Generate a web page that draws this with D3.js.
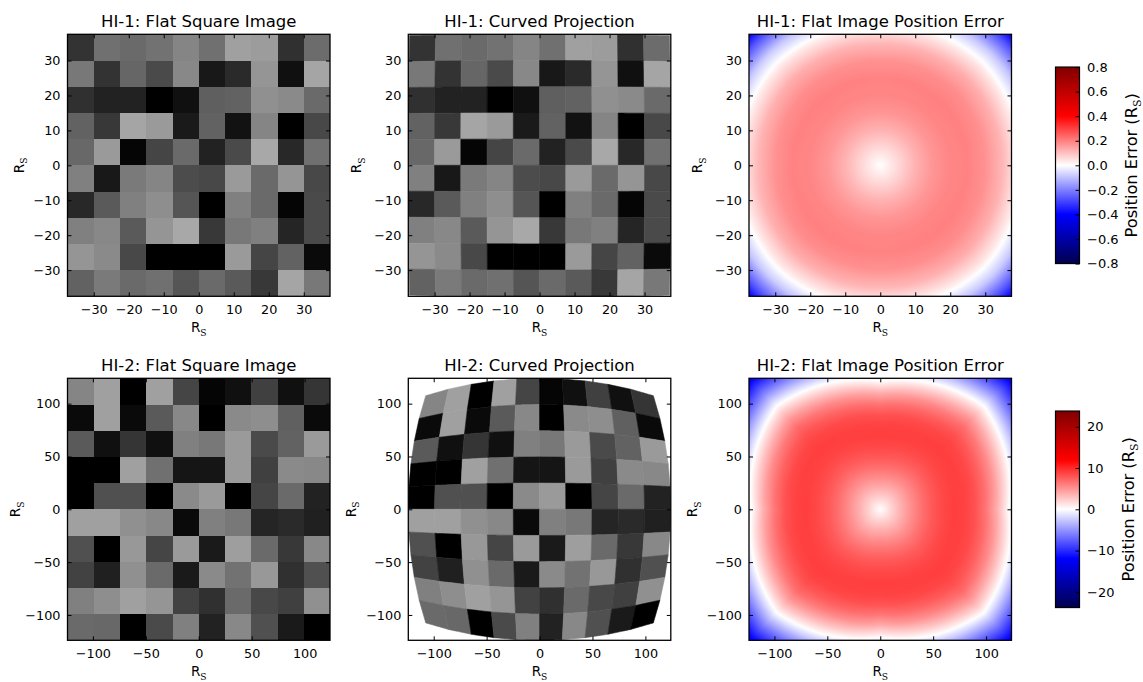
<!DOCTYPE html>
<html><head><meta charset="utf-8">
<script src="https://cdn.jsdelivr.net/npm/d3@7"></script>
<style>
body{margin:0;background:#fff}
svg{display:block}
text{font-family:'DejaVu Sans',sans-serif;fill:#000}
</style>
</head><body>
<svg id="chart" width="1143" height="682"></svg>
<script>
// ================= DATA =================
const hi1Extent = 37.5;   // R_S half-width of HI-1 image
const hi2Extent = 124;    // R_S half-width of HI-2 image

// pixel brightness (0-255) of the 10x10 test images, top row first
const hi1Brightness = [
  [ 51,112,106,114,133,112,160,156, 48,108],
  [120, 51,102, 74,136, 24, 42,149, 16,165],
  [ 48, 34, 34,  0, 16, 95, 98,144,138,106],
  [ 98, 56,165,154, 26, 98, 18,133,  0, 72],
  [104,154,  5, 69,106, 34, 74,168, 40,112],
  [128, 24,122,133, 76, 72,154,106,149, 72],
  [ 40, 90,128,142, 85,  0,128,106,  5, 74],
  [128,136, 90,149,168, 56,120,128, 37, 74],
  [149,138, 72,  0,  0,  0,154, 69, 98, 10],
  [ 98,122,106,112, 85,106, 90, 56,165,120]
];
const hi2Brightness = [
  [133,160,  0,160, 69,  5, 16, 64, 16, 53],
  [ 10,160, 10, 90,136,  0,138,142, 96, 10],
  [ 90, 16, 53, 16,128,120,154, 74, 98,154],
  [  0,  0,160,112, 21, 21,154, 64,138,136],
  [  0, 80, 80,  0,138,154,  0, 69,106, 34],
  [160,160,144,136, 10,128,120, 37, 42, 32],
  [ 80,  0,152, 69,154, 26,158,106, 56,136],
  [ 66, 32,144,106, 26,138,114,152, 48, 80],
  [128,142,160,149, 66, 48,106, 72, 64,144],
  [106,104,  0, 74,128, 34,136, 80, 26,  0]
];

const hi1Ticks = [-30,-20,-10,0,10,20,30];
const hi2Ticks = [-100,-50,0,50,100];

// position error (R_S) versus radius, along the axes and along the diagonals
const hi1Radii   = [0,5,10,15,20,25,30,35,40,45,50,55];
const hi1ErrAxis = [0,0.06,0.12,0.165,0.19,0.195,0.17,0.11,0.01,-0.12,-0.30,-0.50];
const hi1ErrDiag = [0,0.06,0.12,0.165,0.19,0.20,0.18,0.13,0.04,-0.08,-0.27,-0.50];
const hi2Radii   = [0,10,20,30,40,50,60,70,80,90,100,110,120,130,140,150,160,170,180];
const hi2ErrAxis = [0,2.0,3.8,5.4,6.8,7.9,8.6,9.0,8.8,8.0,6.3,3.8,0.5,-3,-7,-11,-15,-19,-23];
const hi2ErrDiag = [0,1.9,3.6,5.1,6.4,7.5,8.3,8.8,9.0,8.8,8.1,6.9,5.0,2.5,-0.5,-4,-7.5,-11,-14];

// colour bar limits and ticks
const hi1CbLimit = 0.8;
const hi2CbLimit = 23.8;
const hi1CbTicks = [-0.8,-0.6,-0.4,-0.2,0,0.2,0.4,0.6,0.8];
const hi2CbTicks = [-20,-10,0,10,20];

// curved projection: squeeze factor of one coordinate vs |other coordinate|/extent
const squeezeT   = [0,0.2,0.4,0.6,0.8,1.0];
const hi1Squeeze = [1,0.9996,0.9985,0.9965,0.9938,0.990];
const hi2Squeeze = [1,0.995,0.980,0.954,0.917,0.867];

// ================= LAYOUT =================
const svg = d3.select('#chart');
const colLeft = [67.5, 408.3, 749], panelW = 262.5;
const rowTop = [34.3, 378.3], panelH = 262;
const ylabX = [[23.5, 361.3, 702],[20, 355.5, 697]];
const cbX = 1055.5, cbW = 24, cbH = 196.5;
const grey = d3.scaleLinear().domain([0,255]).range(['#000000','#ffffff']);
const seismicColors = ['#00004d','#0000ff','#ffffff','#ff0000','#800000'];
function seismic(m){
  return d3.scaleLinear().domain([-m,-m/2,0,m/2,m]).range(seismicColors).clamp(true);
}

const instruments = [
  {name:'HI-1', ext:hi1Extent, img:hi1Brightness, ticks:hi1Ticks, radii:hi1Radii,
   errA:hi1ErrAxis, errD:hi1ErrDiag, lim:hi1CbLimit, cbTicks:hi1CbTicks, cbFmt:d3.format('.1f'), squeeze:hi1Squeeze},
  {name:'HI-2', ext:hi2Extent, img:hi2Brightness, ticks:hi2Ticks, radii:hi2Radii,
   errA:hi2ErrAxis, errD:hi2ErrDiag, lim:hi2CbLimit, cbTicks:hi2CbTicks, cbFmt:d3.format('d'), squeeze:hi2Squeeze}
];

function addRs(sel, size){
  sel.append('tspan').text('R');
  sel.append('tspan').attr('dy', size*0.28).style('font-family',"'DejaVu Serif',serif")
     .style('font-size', (size*0.68)+'px').text('S');
}

let clipId = 0;
function makePanel(row, col, inst, title){
  const left = colLeft[col], top = rowTop[row];
  const xS = d3.scaleLinear().domain([-inst.ext, inst.ext]).range([left, left+panelW]);
  const yS = d3.scaleLinear().domain([-inst.ext, inst.ext]).range([top+panelH, top]);
  const g = svg.append('g');
  const cid = 'clip'+(clipId++);
  svg.append('clipPath').attr('id',cid).append('rect')
     .attr('x',left).attr('y',top).attr('width',panelW).attr('height',panelH);
  const content = g.append('g').attr('clip-path',`url(#${cid})`);
  g.append('text').attr('x',left+panelW/2).attr('y',top-7)
   .attr('text-anchor','middle').style('font-size','16.5px').text(title);
  return {g, content, xS, yS, left, top};
}

function cellsOf(img, ext){
  const n = img.length, cw = 2*ext/n;
  return img.flatMap((rowArr,r)=>rowArr.map((v,c)=>({
    v, x0:-ext+c*cw, x1:-ext+(c+1)*cw, y1:ext-r*cw, y0:ext-(r+1)*cw
  })));
}

function drawAxes(p, inst, row, col){
  const {g,xS,yS,left,top} = p;
  const fmt = d3.format('d');
  const styleAxis = sel => {
    sel.select('.domain').remove();
    sel.selectAll('line').attr('stroke','#000').attr('stroke-width',1);
    sel.selectAll('text').style('font-size','12.8px').style('font-family',"'DejaVu Sans',sans-serif").attr('fill','#000');
    sel.attr('font-family',null).attr('font-size',null);
  };
  g.append('g').attr('transform',`translate(0,${top+panelH})`)
   .call(d3.axisBottom(xS).tickValues(inst.ticks).tickSize(-4).tickPadding(9).tickFormat(fmt)).call(styleAxis);
  g.append('g').attr('transform',`translate(0,${top})`)
   .call(d3.axisTop(xS).tickValues(inst.ticks).tickSize(-4).tickFormat('')).call(styleAxis);
  g.append('g').attr('transform',`translate(${left},0)`)
   .call(d3.axisLeft(yS).tickValues(inst.ticks).tickSize(-4).tickPadding(7).tickFormat(fmt)).call(styleAxis);
  g.append('g').attr('transform',`translate(${left+panelW},0)`)
   .call(d3.axisRight(yS).tickValues(inst.ticks).tickSize(-4).tickFormat('')).call(styleAxis);
  g.append('rect').attr('x',left).attr('y',top).attr('width',panelW).attr('height',panelH)
   .attr('fill','none').attr('stroke','#000').attr('stroke-width',1.3);
  const xl = g.append('text').attr('x',left+panelW/2).attr('y',top+panelH+36)
    .attr('text-anchor','middle').style('font-size','13.5px');
  addRs(xl,13.5);
  const yl = g.append('text').attr('transform',`translate(${ylabX[row][col]},${top+panelH/2}) rotate(-90)`)
    .attr('text-anchor','middle').style('font-size','13.5px');
  addRs(yl,13.5);
}

instruments.forEach((inst,row)=>{
  const cells = cellsOf(inst.img, inst.ext);

  // ---- flat square image ----
  const p1 = makePanel(row,0,inst,inst.name+': Flat Square Image');
  p1.content.selectAll('rect').data(cells).join('rect')
    .attr('x',d=>p1.xS(d.x0)).attr('y',d=>p1.yS(d.y1))
    .attr('width',d=>p1.xS(d.x1)-p1.xS(d.x0)).attr('height',d=>p1.yS(d.y0)-p1.yS(d.y1))
    .attr('fill',d=>grey(d.v)).attr('shape-rendering','crispEdges');
  drawAxes(p1,inst,row,0);

  // ---- curved projection ----
  const p2 = makePanel(row,1,inst,inst.name+': Curved Projection');
  const sq = d3.scaleLinear().domain(squeezeT).range(inst.squeeze).clamp(true);
  const ext = inst.ext;
  const mapPt = (x,y)=>[p2.xS(x*sq(Math.abs(y)/ext)), p2.yS(y*sq(Math.abs(x)/ext))];
  const nSeg = 10;
  const cellPath = d=>{
    const pts=[];
    for(let k=0;k<nSeg;k++) pts.push(mapPt(d.x0+(d.x1-d.x0)*k/nSeg, d.y0));
    for(let k=0;k<nSeg;k++) pts.push(mapPt(d.x1, d.y0+(d.y1-d.y0)*k/nSeg));
    for(let k=0;k<nSeg;k++) pts.push(mapPt(d.x1-(d.x1-d.x0)*k/nSeg, d.y1));
    for(let k=0;k<nSeg;k++) pts.push(mapPt(d.x0, d.y1-(d.y1-d.y0)*k/nSeg));
    return d3.line()(pts)+'Z';
  };
  p2.content.selectAll('path').data(cells).join('path')
    .attr('d',cellPath).attr('fill',d=>grey(d.v))
    .attr('stroke',d=>grey(d.v)).attr('stroke-width',0.6).attr('stroke-linejoin','round');
  drawAxes(p2,inst,row,1);

  // ---- position error map ----
  const p3 = makePanel(row,2,inst,inst.name+': Flat Image Position Error');
  const cmap = seismic(inst.lim);
  const axisS = d3.scaleLinear().domain(inst.radii).range(inst.errA);
  const diagS = d3.scaleLinear().domain(inst.radii).range(inst.errD);
  const w = Math.round(panelW), h = Math.round(panelH);
  const cv = document.createElement('canvas'); cv.width=w; cv.height=h;
  const ctx = cv.getContext('2d'); const im = ctx.createImageData(w,h);
  const px = d3.scaleLinear().domain([0,w]).range([-ext,ext]);
  const py = d3.scaleLinear().domain([0,h]).range([ext,-ext]);
  for(let j=0;j<h;j++){
    for(let i=0;i<w;i++){
      const x=px(i+0.5), y=py(j+0.5);
      const a=Math.abs(x), b=Math.abs(y), mx=Math.max(a,b), mn=Math.min(a,b);
      const wt = mx===0?0:Math.atan(mn/mx)/(Math.PI/4);
      const r = Math.hypot(x,y);
      const v = (1-wt)*axisS(r) + wt*diagS(r);
      const c = d3.rgb(cmap(v));
      const o=(j*w+i)*4;
      im.data[o]=c.r; im.data[o+1]=c.g; im.data[o+2]=c.b; im.data[o+3]=255;
    }
  }
  ctx.putImageData(im,0,0);
  p3.content.append('image').attr('href',cv.toDataURL())
    .attr('x',p3.left).attr('y',p3.top).attr('width',panelW).attr('height',panelH)
    .attr('preserveAspectRatio','none');
  drawAxes(p3,inst,row,2);

  // ---- colour bar ----
  const cbTop = rowTop[row] + panelH/2 - cbH/2;
  const cS = d3.scaleLinear().domain([-inst.lim, inst.lim]).range([cbTop+cbH, cbTop]);
  const gid = 'grad'+row;
  const grad = svg.append('defs').append('linearGradient').attr('id',gid)
    .attr('x1',0).attr('y1',1).attr('x2',0).attr('y2',0);
  cmap.domain().forEach((dv,k)=>{
    grad.append('stop').attr('offset',(dv+inst.lim)/(2*inst.lim)).attr('stop-color',cmap.range()[k]);
  });
  const cb = svg.append('g');
  cb.append('rect').attr('x',cbX).attr('y',cbTop).attr('width',cbW).attr('height',cbH)
    .attr('fill',`url(#${gid})`);
  cb.append('g').attr('transform',`translate(${cbX+cbW},0)`)
    .call(d3.axisRight(cS).tickValues(inst.cbTicks).tickSize(-4).tickPadding(7.5).tickFormat(inst.cbFmt))
    .call(sel=>{
      sel.select('.domain').remove();
      sel.selectAll('line').attr('stroke','#000');
      sel.selectAll('text').style('font-size','13px').attr('fill','#000');
      sel.attr('font-family',null).attr('font-size',null);
    });
  cb.append('rect').attr('x',cbX).attr('y',cbTop).attr('width',cbW).attr('height',cbH)
    .attr('fill','none').attr('stroke','#000').attr('stroke-width',1.2);
  const lab = cb.append('text')
    .attr('transform',`translate(${row===0?1136.5:1134},${cbTop+cbH/2}) rotate(-90)`)
    .attr('text-anchor','middle').style('font-size','16.2px');
  lab.append('tspan').text('Position Error (R');
  lab.append('tspan').attr('dy',4).style('font-family',"'DejaVu Serif',serif").style('font-size','11px').text('S');
  lab.append('tspan').attr('dy',-4).text(')');
});
</script>
</body></html>
